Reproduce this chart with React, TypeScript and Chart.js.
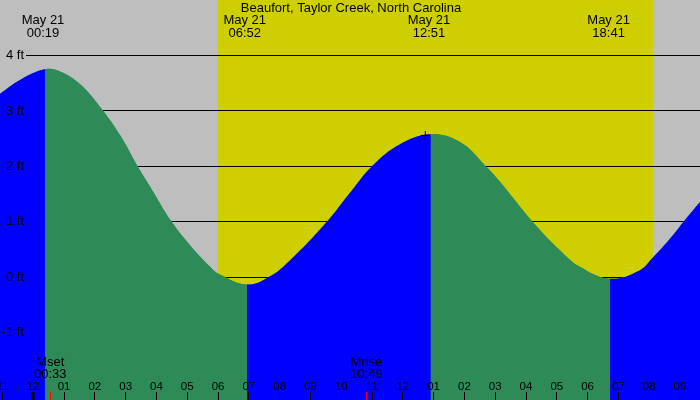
import React, { useEffect, useRef } from 'react';
import { Chart, registerables } from 'chart.js';

Chart.register(...registerables);

// chart text
const TITLE = 'Beaufort, Taylor Creek, North Carolina';
const DATE_LABEL = 'May 21';

// axis ranges (hours from midnight May 21, feet)
const X_MIN = -1.08;
const X_MAX = 21.65;
const Y_MIN = -2.21;
const Y_MAX = 5.0;

// tide curve
const tideHours = [-1.08, -0.43, 0.38, 0.87, 1.52, 2.17, 2.82, 3.39, 3.79, 4.47, 5.09, 5.74, 6.06, 6.94, 7.69, 8.34, 9.53, 10.28, 10.99, 11.91, 12.91, 13.86, 14.7, 15.16, 16.22, 17.1, 17.75, 18.73, 19.7, 20.09, 20.68, 21.11, 21.65];
const tideFeet = [3.31, 3.56, 3.75, 3.71, 3.48, 3.07, 2.56, 2.0, 1.64, 1.02, 0.58, 0.19, 0.05, -0.13, 0.02, 0.31, 1.0, 1.52, 2.0, 2.4, 2.58, 2.44, 2.0, 1.72, 1.0, 0.49, 0.19, -0.025, 0.13, 0.34, 0.7, 1.0, 1.36];

// high / low events shown at the top
const eventHours = [0.317, 6.867, 12.85, 18.683];
const eventTimes = ['00:19', '06:52', '12:51', '18:41'];

// small cross marker
const markHours = [12.73];
const markFeet = [2.56];

// sun
const sunrise = 6.0;
const sunset = 20.12;

// moon
const moonHours = [0.55, 10.817];
const moonNames = ['Mset', 'Mrise'];
const moonTimes = ['00:33', '10:49'];

// axes
const yTicks = [4, 3, 2, 1, 0, -1];
const yTickLabels = ['4 ft', '3 ft', '2 ft', '1 ft', '0 ft', '-1 ft'];
const hourTicks = [-1, 0, 1, 2, 3, 4, 5, 6, 7, 8, 9, 10, 11, 12, 13, 14, 15, 16, 17, 18, 19, 20, 21];
const hourLabels = ['11', '12', '01', '02', '03', '04', '05', '06', '07', '08', '09', '10', '11', '12', '01', '02', '03', '04', '05', '06', '07', '08', '09'];

const NIGHT = '#BEBEBE';
const DAY = '#CFCF00';
const RISING = '#0000FF';
const FALLING = '#2E8B57';
const FONT = '13px "Liberation Sans", Arial, sans-serif';
const HOUR_FONT = '11.5px "Liberation Sans", Arial, sans-serif';

const tideDecor = {
  id: 'tideDecor',
  beforeDraw(chart: any) {
    const { ctx, width, height } = chart;
    const x = chart.scales.x, y = chart.scales.y;
    ctx.save();
    ctx.fillStyle = NIGHT;
    ctx.fillRect(0, 0, width, height);
    const sx0 = x.getPixelForValue(sunrise), sx1 = x.getPixelForValue(sunset);
    ctx.fillStyle = DAY;
    ctx.fillRect(sx0, 0, sx1 - sx0, height);
    ctx.strokeStyle = '#000';
    ctx.lineWidth = 1;
    for (const v of yTicks) {
      const py = Math.floor(y.getPixelForValue(v)) + 0.5;
      ctx.beginPath();
      ctx.moveTo(26, py);
      ctx.lineTo(width, py);
      ctx.stroke();
    }
    ctx.restore();
  },
  afterDatasetsDraw(chart: any) {
    const { ctx, height } = chart;
    const x = chart.scales.x, y = chart.scales.y;
    ctx.save();
    ctx.font = FONT;
    ctx.fillStyle = '#000';

    ctx.textAlign = 'center';
    ctx.textBaseline = 'alphabetic';
    ctx.fillText(TITLE, 351, 12);

    eventHours.forEach((h, i) => {
      const px = x.getPixelForValue(h);
      ctx.fillText(DATE_LABEL, px, 24);
      ctx.fillText(eventTimes[i], px, 36.5);
    });

    ctx.textAlign = 'right';
    ctx.textBaseline = 'middle';
    yTicks.forEach((v, i) => {
      ctx.fillText(yTickLabels[i], 24, y.getPixelForValue(v));
    });

    ctx.textAlign = 'center';
    ctx.textBaseline = 'alphabetic';
    moonHours.forEach((h, i) => {
      const px = x.getPixelForValue(h);
      ctx.fillText(moonNames[i], px, 366);
      ctx.fillText(moonTimes[i], px, 378);
    });

    ctx.font = HOUR_FONT;
    hourTicks.forEach((h, i) => {
      const px = x.getPixelForValue(h);
      ctx.fillStyle = '#000';
      ctx.fillText(hourLabels[i], px, 389.5);
      if (h === 0) ctx.fillRect(Math.round(px) - 1.5, 392, 3, height - 392);
      else ctx.fillRect(Math.floor(px), 392, 1, height - 392);
    });

    ctx.fillStyle = '#FF0000';
    moonHours.forEach((h) => {
      ctx.fillRect(Math.floor(x.getPixelForValue(h)), 392, 1, height - 392);
    });
    ctx.restore();
  },
};

export default function App() {
  const ref = useRef<HTMLCanvasElement | null>(null);
  useEffect(() => {
    if (!ref.current) return;
    const tidePoints = tideHours.map((h, i) => ({ x: h, y: tideFeet[i] }));
    const chart = new Chart(ref.current, {
      type: 'line',
      data: {
        datasets: [
          {
            type: 'scatter',
            data: markHours.map((h, i) => ({ x: h, y: markFeet[i] })),
            pointStyle: 'cross',
            pointRadius: 4.5,
            borderColor: '#000',
            borderWidth: 1,
            order: 0,
          } as any,
          {
            data: tidePoints,
            fill: 'start',
            borderWidth: 0,
            pointRadius: 0,
            tension: 0.4,
            backgroundColor: FALLING,
            segment: {
              backgroundColor: (c: any) => (c.p1.parsed.y > c.p0.parsed.y ? RISING : FALLING),
            },
            order: 1,
          },
          {
            // plain backing fill so no gridline shows through the colour seams
            data: tidePoints,
            fill: 'start',
            borderWidth: 0,
            pointRadius: 0,
            tension: 0.4,
            backgroundColor: FALLING,
            order: 2,
          },
        ],
      },
      options: {
        responsive: false,
        animation: false,
        events: [],
        layout: { padding: 0, autoPadding: false },
        scales: {
          x: { type: 'linear', min: X_MIN, max: X_MAX, display: false },
          y: { type: 'linear', min: Y_MIN, max: Y_MAX, display: false },
        },
        plugins: { legend: { display: false }, tooltip: { enabled: false } },
      },
      plugins: [tideDecor],
    });
    return () => chart.destroy();
  }, []);
  return (
    <div style={{ position: 'fixed', left: 0, top: 0, width: 700, height: 400 }}>
      <canvas ref={ref} width={700} height={400} />
    </div>
  );
}
